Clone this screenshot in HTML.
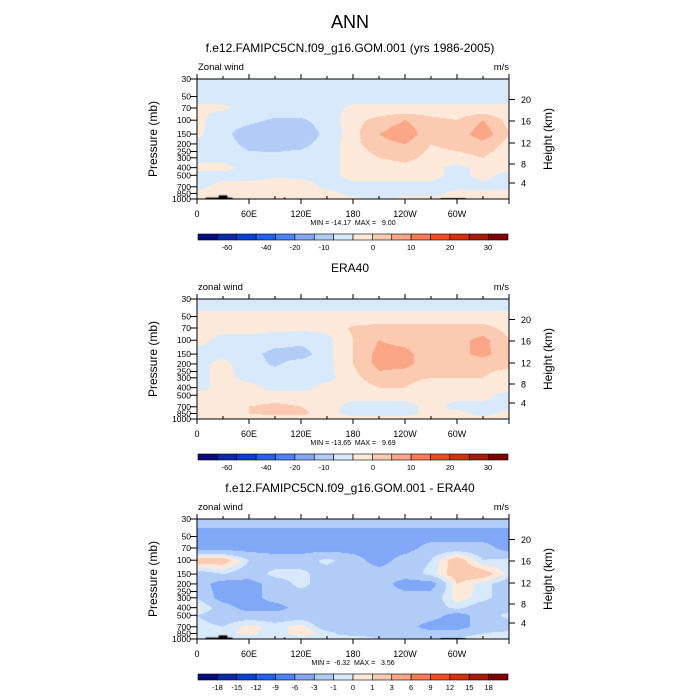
<!DOCTYPE html>
<html><head><meta charset="utf-8">
<style>
html,body{margin:0;padding:0;background:#fff;}
#wrap{position:relative;width:700px;height:700px;overflow:hidden;background:#fff;font-family:"Liberation Sans",sans-serif;}
canvas{position:absolute;left:0;top:0;}
svg{position:absolute;left:0;top:0;}
svg text{white-space:pre;}
</style></head>
<body>
<div id="wrap">
<canvas id="cv" width="700" height="700"></canvas>
<svg id="sv" width="700" height="700"></svg>
</div>
<script>
// ---- data ----
const lons = [0,30,60,90,120,150,180,210,240,270,300,330,360];
const levels = [30,50,70,100,150,200,300,400,500,700,850,1000];
const modelField = [
 [-2,-2,-2,-2,-2,-2,-2,-2,-2,-2,-2,-2,-2],
 [-1,-1,-1,-1,-1,-1,-1,-1,-1,-1,-1,-1,-1],
 [0.5,0.5,-1,-1,-1,-1,0.5,0.5,0.5,0.5,0.5,0.5,0.5],
 [1,-2,-3,-6,-6,-2,2,4,6,4,3,6,2],
 [1,-3,-9,-12,-10,-3,2,6,8,4,4,8,3],
 [-1,-2,-7,-8,-7,-2,2,5,6,3,4,5,2],
 [-1,-1,-3,-3,-2,-1,1,3,4,2,2,3,1],
 [1,1,-1,-1,-1,-1,1,1,2,1,-1,1,1],
 [-1,-1,-2,-1,-1,-1,1,1,1,1,-1,1,-1],
 [-1,1,2,3,2,-1,-1,-1,-1,-1,-1,-1,-1],
 [1,2,3,3,2,1,-1,-1,-1,-1,1,1,1],
 [1,1,1,1,1,1,1,-1,1,1,1,1,1]
];
const eraField = [
 [-2,-2,-2,-2,-2,-2,-2,-2,-2,-2,-2,-2,-2],
 [1,1,1,1,1,1,1,1,1,1,1,1,1],
 [1,1,1,1,1,1,3.5,4,4,4,4,4,2],
 [1,-1,-1,-2,-3,-1,3,6,5,4,5,7,3],
 [-1,-1,-3,-7,-8,-1,3,7,7,4,5,7,4],
 [-1,1,-2,-6,-2,-1,3,7,7,4,3,4,4],
 [-1,1,-1,-1,-1,-1,2,5,4,3,3,3,1],
 [-1,1,1,-1,-1,1,1,3,3,1,1,1,1],
 [1,1,1,1,1,1,1,1,1,1,1,1,-1],
 [1,1,3,4,3,1,-1,-1,-1,1,-1,-1,-1],
 [1,1,3,4,4,1,-1,-1,-1,1,1,-1,1],
 [3,1,1,1,1,1,1,1,1,1,1,1,1]
];
const diffField = [
 [-2,-2,-2,-2,-2,-2,-2,-2,-2,-2,-2,-2,-2],
 [-4,-4,-4,-4,-4,-4,-4,-4,-4,-4,-4,-4,-4],
 [-4,-4,-4,-4,-4,-4,-4,-4,-4,-2,-2,-2,-4],
 [2,2,-1,-2,-2,-0.5,-2,-4,-2,-1,2,-1,-0.5],
 [-2,-1,-2,-0.5,-0.5,-2,-2,-2,-2,-0.5,2,2,-0.5],
 [-2,-4,-4,-2,-0.5,-2,-2,-2,-4,-4,1,-0.5,-2],
 [-1,-4,-4,-2,-2,-2,-2,-2,-2,-2,0.5,-0.5,-2],
 [0.5,-2,-4,-4,-2,-2,-2,-2,-2,-2,-0.5,-2,-2],
 [-1,-2,-2,-2,-2,-2,-2,-2,-2,-2,-4,-2,-0.5],
 [-0.5,-1,0.5,-0.5,0.5,-2,-2,-2,-2,-4,-4,-2,-2],
 [-1,-0.5,0.5,-1,1,-0.5,-2,-2,-2,-2,-2,-1,-0.5],
 [-1,-1,-1,-1,-1,-1,0.5,-1,-1,-1,-1,0.5,-1]
];
const absBounds = [-60,-50,-40,-30,-20,-15,-5,0,3,6,12,15,20,25,30];
const diffBounds = [-18,-15,-12,-9,-6,-3,-1,0,1,3,6,9,12,15,18];
const palette = ["#0b0b80","#0a2aa8","#0a40d8","#2262f2","#4c84f2","#80a8f6","#b2ccf8","#d8e9fb","#fde9da","#fcc9b1","#fba686","#f97c56","#f44c20","#d4300c","#a81a0a","#7e0000"];
const absLabels = ["-60","-40","-20","-10","0","10","20","30"];
const absLabelX = [227,266,295,324,373,411,450,488];
const diffLabels = ["-18","-15","-12","-9","-6","-3","-1","0","1","3","6","9","12","15","18"];
const lonTickLabels = ["0","60E","120E","180","120W","60W"];
const pLabels = [30,50,70,100,150,200,250,300,400,500,700,850,1000];
const zLabels = [20,16,12,8,4];
const zLabelY = [20.5,42,64,85,104];
const topoModel = [[10,41,960],[25,35,900],[100,102,960],[281,310,975]];
const topoEra = [];
// ---- geometry ----
const X0=197, X1=509, H=120;
const panels=[
 {top:79,field:modelField,bounds:absBounds,title:"f.e12.FAMIPC5CN.f09_g16.GOM.001 (yrs 1986-2005)",left:"Zonal wind",minmax:"MIN = -14.17  MAX =   9.00",labels:absLabels,labelX:absLabelX,topo:topoModel,name:"model"},
 {top:299,field:eraField,bounds:absBounds,title:"ERA40",left:"zonal wind",minmax:"MIN = -13.65  MAX =   9.69",labels:absLabels,labelX:absLabelX,topo:topoEra,name:"era40"},
 {top:519,field:diffField,bounds:diffBounds,title:"f.e12.FAMIPC5CN.f09_g16.GOM.001 - ERA40",left:"zonal wind",minmax:"MIN =  -6.32  MAX =   3.56",labels:diffLabels,labelX:null,topo:topoModel,name:"difference"}
];
const lp0=Math.log10(30), lp1=Math.log10(1000);
function xOf(lon){return X0+(lon/360)*(X1-X0);}
function yOf(p,top){return top+(Math.log10(p)-lp0)/(lp1-lp0)*H;}
function sample(field,lon,p){
 let i=Math.min(lons.length-2,Math.floor(lon/30)); let fx=(lon-lons[i])/30;
 const lp=Math.log10(p); let j=0;
 for(let k=0;k<levels.length-1;k++){ if(lp>=Math.log10(levels[k])) j=k; }
 j=Math.min(j,levels.length-2);
 const a=Math.log10(levels[j]), b=Math.log10(levels[j+1]);
 let fy=Math.max(0,Math.min(1,(lp-a)/(b-a)));
 const v00=field[j][i],v01=field[j][i+1],v10=field[j+1][i],v11=field[j+1][i+1];
 return (v00*(1-fx)+v01*fx)*(1-fy)+(v10*(1-fx)+v11*fx)*fy;
}
function colorOf(v,bounds){let k=0;while(k<bounds.length&&v>=bounds[k])k++;return palette[k];}
const ctx=document.getElementById('cv').getContext('2d');
const sv=document.getElementById('sv');
const NS="http://www.w3.org/2000/svg";
function mk(tag,attrs,name,parent){const e=document.createElementNS(NS,tag);for(const k in attrs)e.setAttribute(k,attrs[k]);
 
 
 (parent||sv).appendChild(e);return e;}
function txt(x,y,s,size,anchor,name,extra){const t=mk('text',Object.assign({x:x,y:y,'font-size':size,'text-anchor':anchor||'middle','font-family':'Liberation Sans, sans-serif',fill:'#000'},extra||{}),name);t.textContent=s;return t;}

txt(350,28,"ANN",18,'middle','main-title');

panels.forEach((P,pi)=>{
 const top=P.top;
 for(let px=X0;px<X1;px++){
  const lon=(px+0.5-X0)/(X1-X0)*360;
  for(let py=top;py<top+H;py++){
   const lp=lp0+(py+0.5-top)/H*(lp1-lp0);
   const v=sample(P.field,lon,Math.pow(10,lp));
   ctx.fillStyle=colorOf(v,P.bounds);ctx.fillRect(px,py,1,1);
  }
 }
 P.topo.forEach(t=>{ctx.fillStyle="#000";const y=yOf(t[2],top);ctx.fillRect(xOf(t[0]),y,xOf(t[1])-xOf(t[0]),top+H-y);});
 txt(350,top-27,P.title,12,'middle','panel-title-'+P.name);
 txt(198,top-9,P.left,9.5,'start','variable-label-'+P.name);
 txt(509,top-9,"m/s",9.5,'end','units-label-'+P.name);
 mk('rect',{x:X0,y:top,width:X1-X0,height:H,fill:'none',stroke:'#000','stroke-width':1},'plot-frame-'+P.name);
 for(let lon=0;lon<=360;lon+=30){
  const x=xOf(lon), major=lon%60===0;
  mk('line',{x1:x,x2:x,y1:top,y2:top-(major?5:3),stroke:'#000'},'top-tick');
  mk('line',{x1:x,x2:x,y1:top+H,y2:top+H+(major?5:-3),stroke:'#000'},'bottom-tick');
 }
 lonTickLabels.forEach((s,k)=>txt(xOf(k*60),top+H+18,s,9,'middle','lon-label'));
 pLabels.forEach(p=>{const y=yOf(p,top);
  mk('line',{x1:X0-7,x2:X0,y1:y,y2:y,stroke:'#000'},'pressure-tick');
  txt(191,y+3,String(p),8.5,'end','pressure-label');});
 zLabels.forEach((z,k)=>{const y=top+zLabelY[k];
  mk('line',{x1:X1,x2:X1+6,y1:y,y2:y,stroke:'#000'},'height-tick');
  txt(521,y+3.5,String(z),9,'start','height-label');});
 txt(0,0,"Pressure (mb)",12,'middle','y-axis-title-'+P.name,{transform:`translate(157,${top+60}) rotate(-90)`});
 txt(0,0,"Height (km)",12,'middle','y2-axis-title-'+P.name,{transform:`translate(552,${top+60}) rotate(-90)`});
 txt(353,top+H+26,P.minmax,7,'middle','minmax-label-'+P.name);
 const cbY=top+155, cbX0=198, cbW=310, bw=cbW/16;
 for(let k=0;k<16;k++) mk('rect',{x:cbX0+k*bw,y:cbY,width:bw,height:6,fill:palette[k],stroke:'#000','stroke-width':0.6},'colorbar-box');
 P.labels.forEach((s,k)=>{const x=P.labelX?P.labelX[k]:cbX0+(k+1)*bw;txt(x,cbY+16,s,7.5,'middle','colorbar-label');});
});
</script>
</body></html>
